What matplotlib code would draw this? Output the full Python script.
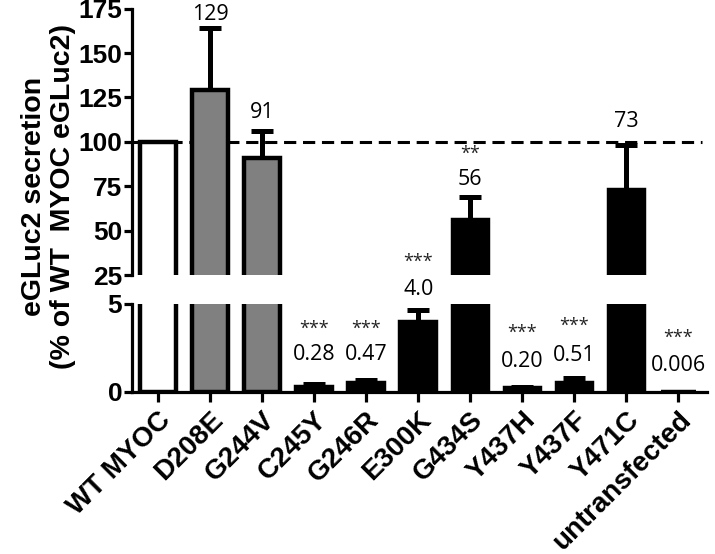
import numpy as np
from matplotlib import pyplot as plt

groups = ['WT MYOC', 'D208E', 'G244V', 'C245Y', 'G246R', 'E300K',
          'G434S', 'Y437H', 'Y437F', 'Y471C', 'untransfected']
values = [100, 129, 91, 0.28, 0.47, 4.0, 56, 0.20, 0.51, 73, 0.006]
errors = [0, 35, 15, 0.15, 0.2, 0.65, 13, 0.05, 0.25, 25, 0]
value_labels = ['', '129', '91', '0.28', '0.47', '4.0', '56', '0.20', '0.51', '73', '0.006']
star_labels = ['', '', '', '***', '***', '***', '**', '***', '***', '', '***']
fills = ['white', '#808080', '#808080'] + ['black'] * 8

# where the annotations sit (data units of the panel they belong to)
label_y = [None, 172, 116.6, 2.1, 2.1, 5.8, 79, 1.7, 2.05, 111.6, 1.5]
star_y = [None, None, None, 3.6, 3.6, 7.4, 93, 3.35, 3.75, None, 3.05]

plt.rcParams['font.family'] = ['Liberation Sans', 'DejaVu Sans']
ann_font = dict(family=['Open Sans', 'DejaVu Sans'], fontsize=15.5, ha='center', va='center')
star_font = dict(family=['Open Sans', 'DejaVu Sans'], fontsize=13, ha='center', va='center',
                 color='#222222')

fig = plt.figure(figsize=(7.15, 5.54), dpi=100)
left, width = 0.1846, 0.8042
ax_top = fig.add_axes([left, 0.5036, width, 0.4807])
ax_bot = fig.add_axes([left, 0.2930, width, 0.1583])

x = np.arange(len(groups))
xlim = (-0.5, 10.55)

for ax in (ax_top, ax_bot):
    ax.bar(x, values, width=0.68, color=fills, edgecolor='black', linewidth=3.2, zorder=2)
    idx = [i for i, e in enumerate(errors) if e > 0]
    ax.errorbar(x[idx], np.array(values)[idx],
                yerr=[np.zeros(len(idx)), np.array(errors)[idx]],
                fmt='none', ecolor='black', elinewidth=3.6, capsize=8, capthick=3.6, zorder=1)
    ax.set_xlim(*xlim)
    for s in ('top', 'right'):
        ax.spines[s].set_visible(False)
    ax.spines['left'].set_linewidth(2.3)
    ax.tick_params(axis='y', width=2.3, length=6, labelsize=19, pad=1)

ax_top.axhline(100, xmin=0, xmax=(10.46 - xlim[0]) / (xlim[1] - xlim[0]),
               color='black', lw=2.2, dashes=(4, 2.2), zorder=0)

ax_top.set_ylim(25, 175)
ax_top.set_yticks([25, 50, 75, 100, 125, 150, 175])
ax_top.spines['bottom'].set_visible(False)
ax_top.tick_params(axis='x', bottom=False, labelbottom=False)
for t in ax_top.get_yticklabels():
    t.set_fontweight('bold')

ax_bot.set_ylim(0, 5)
ax_bot.set_yticks([0, 5])
ax_bot.spines['bottom'].set_linewidth(2.3)
ax_bot.set_xticks(x)
ax_bot.set_xticklabels(groups, rotation=45, ha='right', rotation_mode='anchor',
                       fontsize=20, fontweight='bold')
ax_bot.tick_params(axis='x', width=2.3, length=7, pad=4)
for t in ax_bot.get_yticklabels():
    t.set_fontweight('bold')

for i in range(len(groups)):
    if label_y[i] is not None:
        ax = ax_top if label_y[i] > 25 else ax_bot
        ax.text(x[i], label_y[i], value_labels[i], **ann_font)
    if star_y[i] is not None:
        ax = ax_top if star_y[i] > 25 else ax_bot
        ax.text(x[i], star_y[i], star_labels[i], **star_font)

fig.text(0.068, 0.646, 'eGLuc2 secretion\n(% of WT  MYOC eGLuc2)', rotation=90,
         ha='center', va='center', multialignment='center',
         fontsize=20.5, fontweight='bold', linespacing=1.15)

plt.savefig('out.png', dpi=100)
